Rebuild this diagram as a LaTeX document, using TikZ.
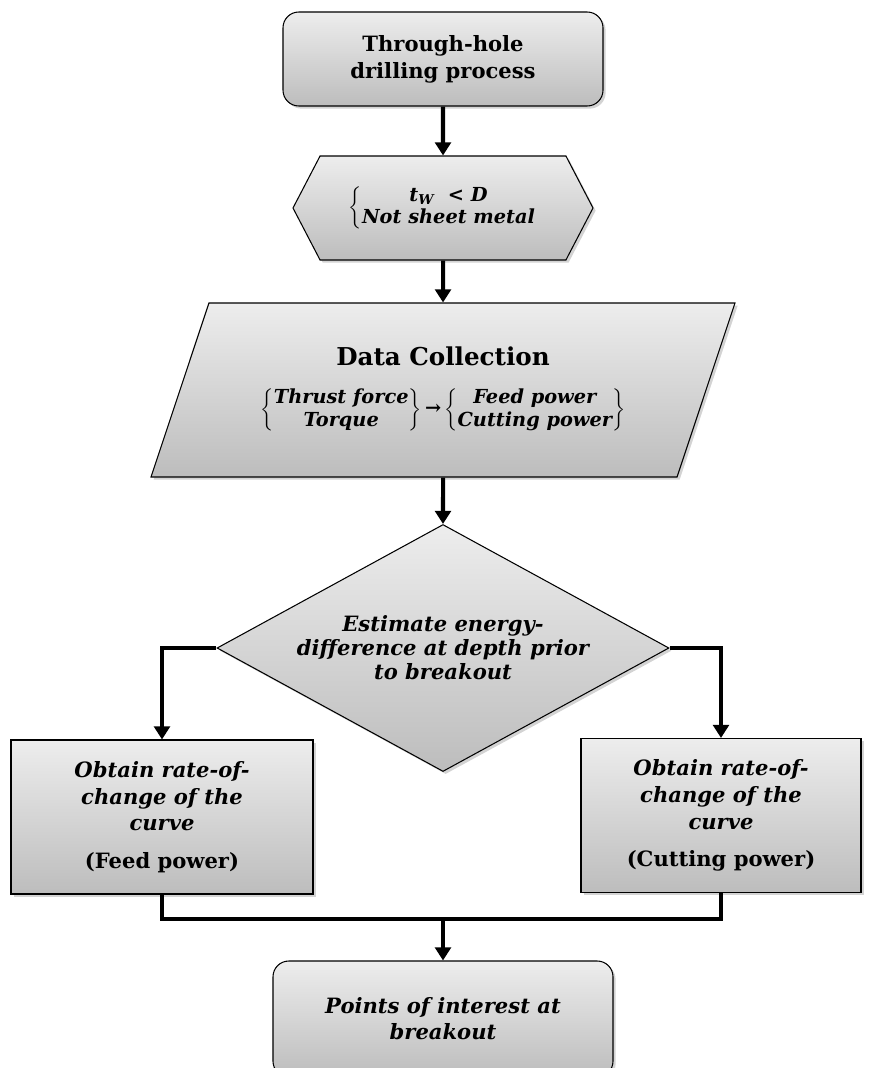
\documentclass[tikz,border=0pt]{standalone}
\usepackage{fontspec}
\setmainfont{DejaVu Serif}
\usetikzlibrary{arrows.meta,positioning,shapes.geometric,shapes.symbols,shadows}
\definecolor{shtop}{gray}{0.93}
\definecolor{shbot}{gray}{0.74}

\begin{document}
\begin{tikzpicture}[>={Triangle[length=7.5pt,width=9pt]},node distance=3cm,
                    font=\fontsize{12}{15.3}\selectfont]
  \tikzstyle{block}=[draw=black,line width=0.6pt,top color=shtop,bottom color=shbot,
                     drop shadow={opacity=0.35,shadow xshift=1.5pt,shadow yshift=-1.5pt},
                     align=center,inner sep=0pt]
  \tikzstyle{term}=[block,rectangle,rounded corners=9pt,minimum width=6.4cm,minimum height=1.88cm]
  \tikzstyle{prep}=[block,signal,signal to=west and east,signal pointer angle=125,
                    minimum width=6cm,minimum height=2.08cm]
  \tikzstyle{io}=[block,trapezium,trapezium left angle=56,trapezium right angle=124,
                  trapezium stretches body,minimum width=11.68cm,minimum height=3.48cm]
  \tikzstyle{decision}=[block,diamond,aspect=1.83,minimum width=9.04cm,minimum height=4.94cm]
  \tikzstyle{process}=[block,rectangle,minimum height=3.08cm]
  \tikzstyle{link}=[->,line width=2.3pt]

  \useasboundingbox (-8.86,1.18) rectangle (8.6,-20.18);

  \node[term,font=\fontsize{12}{15.3}\selectfont\bfseries] (T) {Through-hole\\drilling process};
  \node[prep,font=\fontsize{11}{13}\selectfont\bfseries\itshape] (H) [below of=T,node distance=2.98cm]
    {$\left\{\begin{tabular}{@{}c@{}}t\textsubscript{W}\ \ < D\\Not sheet metal\end{tabular}\right.$};
  \node[io,font=\fontsize{14}{16}\selectfont\bfseries] (P) [below of=H,node distance=3.64cm]
    {Data Collection\\[12pt]
     {\fontsize{11}{13}\selectfont
     $\left\{\begin{tabular}{@{}c@{}}\itshape Thrust force\\\itshape Torque\end{tabular}\right\}
      \mbox{\upshape →}
      \left\{\begin{tabular}{@{}c@{}}\itshape Feed power\\\itshape Cutting power\end{tabular}\right\}$}};
  \node[decision,font=\fontsize{12}{13.6}\selectfont\bfseries\itshape] (E) [below of=P,node distance=5.16cm]
    {Estimate energy-\\difference at depth prior\\to breakout};
  \node[process,minimum width=6.04cm,font=\fontsize{12}{15.3}\selectfont\bfseries\itshape] (L)
    [below of=E,node distance=3.38cm,xshift=-5.62cm]
    {Obtain rate-of-\\change of the\\curve\\[6pt]\upshape (Feed power)};
  \node[process,minimum width=5.6cm,font=\fontsize{12}{15.3}\selectfont\bfseries\itshape] (R)
    [below of=E,node distance=3.35cm,xshift=5.56cm]
    {Obtain rate-of-\\change of the\\curve\\[6pt]\upshape (Cutting power)};
  \coordinate[below of=E,node distance=5.42cm] (M);
  \node[term,minimum width=6.8cm,minimum height=2.32cm,font=\fontsize{12}{14.7}\selectfont\bfseries\itshape] (B)
    [below of=E,node distance=7.42cm] {Points of interest at\\breakout};

  \draw[link] (T) -- (H);
  \draw[link] (H) -- (P);
  \draw[link] (P) -- (E);
  \draw[link] (E.west) -| (L.north);
  \draw[link] (E.east) -| (R.north);
  \draw[line width=2.3pt] (L.south) |- (M) -| (R.south);
  \draw[link] (M) -- (B);
\end{tikzpicture}
\end{document}
